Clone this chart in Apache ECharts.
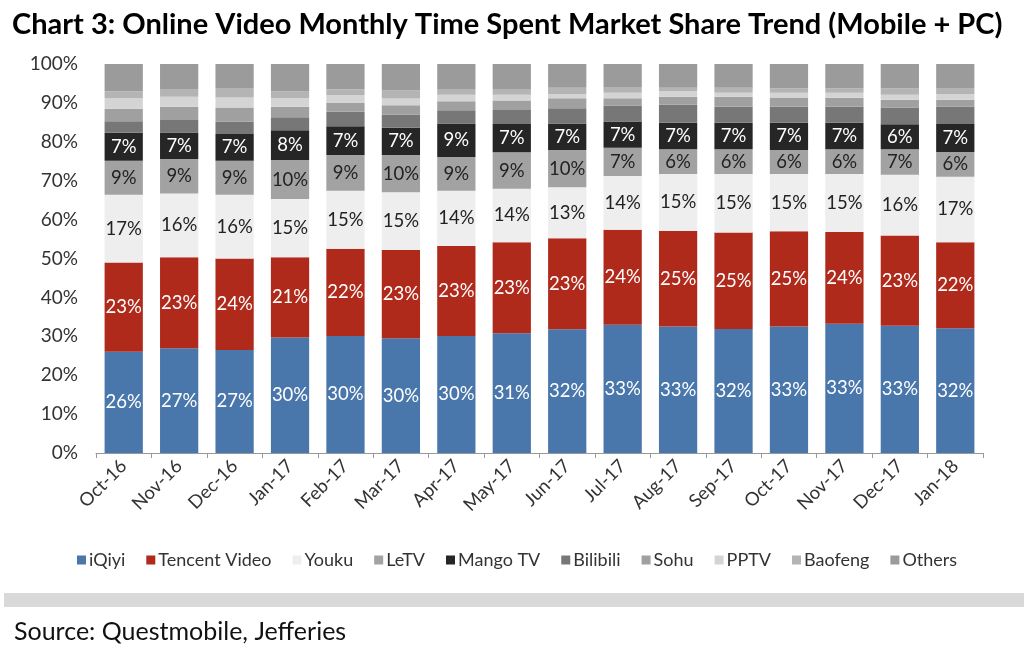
<!DOCTYPE html>
<html>
<head>
<meta charset="utf-8">
<script src="https://cdn.jsdelivr.net/npm/echarts@6/dist/echarts.min.js"></script>
<style>html,body{margin:0;padding:0;background:#fff;}#c{width:1024px;height:653px;}</style>
</head>
<body>
<div id="c"></div>
<script>
const months = ['Oct-16','Nov-16','Dec-16','Jan-17','Feb-17','Mar-17','Apr-17','May-17','Jun-17','Jul-17','Aug-17','Sep-17','Oct-17','Nov-17','Dec-17','Jan-18'];
const yTicks = [0,10,20,30,40,50,60,70,80,90,100];
const iqiyi    = [26.0,26.9,26.5,29.7,30.1,29.5,30.1,30.8,31.8,33.0,32.5,31.9,32.5,33.2,32.7,32.1];
const tencent  = [23.0,23.4,23.5,20.6,22.4,22.7,23.1,23.4,23.4,24.4,24.6,24.8,24.5,23.6,23.2,22.1];
const youku    = [17.4,16.4,16.4,15.0,14.9,14.8,14.2,13.7,13.1,13.8,14.6,15.0,14.7,14.9,15.6,16.8];
const letv     = [8.7,8.9,8.7,10.0,9.2,9.6,8.7,9.4,9.6,7.3,6.4,6.4,6.2,6.4,6.6,6.4];
const mango    = [7.2,6.8,6.9,7.7,7.4,7.0,8.6,7.3,6.8,6.7,6.8,6.8,7.0,6.8,6.4,7.2];
const bilibili = [3.0,3.2,3.2,3.3,3.7,3.4,3.4,3.6,3.9,4.1,4.6,4.1,4.1,4.1,4.3,4.5];
const sohu     = [3.2,3.4,3.6,2.7,2.3,2.4,2.3,2.4,2.6,1.9,2.1,2.6,2.4,2.3,2.0,1.7];
const pptv     = [2.7,2.6,2.6,2.2,2.0,1.7,1.7,1.5,1.0,1.4,1.4,1.0,1.2,1.3,1.3,1.5];
const baofeng  = [1.8,2.0,2.4,1.7,1.5,2.1,1.5,1.5,1.7,1.5,0.9,1.3,1.1,1.1,1.6,1.5];
const others   = [7.0,6.4,6.2,7.1,6.5,6.8,6.4,6.4,6.1,5.9,6.1,6.1,6.3,6.3,6.3,6.2];

const FONT = 'Lato';
const seriesDefs = [
  {name:'iQiyi', data:iqiyi, color:'#4a77ab', label:true, lc:'#ffffff'},
  {name:'Tencent Video', data:tencent, color:'#b02a1c', label:true, lc:'#ffffff'},
  {name:'Youku', data:youku, color:'#eeeeee', label:true, lc:'#222222'},
  {name:'LeTV', data:letv, color:'#a2a2a2', label:true, lc:'#222222'},
  {name:'Mango TV', data:mango, color:'#262626', label:true, lc:'#ffffff'},
  {name:'Bilibili', data:bilibili, color:'#777777', label:false},
  {name:'Sohu', data:sohu, color:'#a0a0a0', label:false},
  {name:'PPTV', data:pptv, color:'#d4d4d4', label:false},
  {name:'Baofeng', data:baofeng, color:'#b4b4b4', label:false},
  {name:'Others', data:others, color:'#9b9b9b', label:false}
];

const chart = echarts.init(document.getElementById('c'), null, {renderer:'canvas'});
chart.setOption({
  animation:false,
  backgroundColor:'#ffffff',
  textStyle:{fontFamily:FONT},
  title:[{
    text:'Chart 3: Online Video Monthly Time Spent Market Share Trend (Mobile + PC)',
    left:7, top:5,
    textStyle:{fontFamily:FONT, fontWeight:'bold', fontSize:29, color:'#000'}
  },{
    text:'Source: Questmobile, Jefferies',
    left:9, top:614,
    textStyle:{fontFamily:FONT, fontWeight:'normal', fontSize:25, color:'#111'}
  }],
  graphic:[{type:'rect', shape:{x:4, y:593, width:1020, height:14}, style:{fill:'#d9d9d9'}, silent:true}],
  grid:{left:96, right:41, top:64, bottom:200},
  legend:{
    data:seriesDefs.map(s=>s.name),
    left:72, top:546,
    itemWidth:9, itemHeight:9, itemGap:21,
    icon:'rect',
    textStyle:{fontFamily:FONT, fontSize:18, color:'#333', padding:[0,0,0,-2]}
  },
  xAxis:{
    type:'category', data:months,
    axisLine:{lineStyle:{color:'#999'}},
    axisTick:{show:true, length:5, lineStyle:{color:'#999'}},
    axisLabel:{rotate:45, fontFamily:FONT, fontSize:18.5, color:'#333', margin:10}
  },
  yAxis:{
    type:'value', min:0, max:100, interval:10,
    axisLine:{show:false}, axisTick:{show:false}, splitLine:{show:false},
    axisLabel:{fontFamily:FONT, fontSize:19, color:'#333', margin:18,
      formatter:v=> yTicks.indexOf(v)>=0 ? v+'%' : ''}
  },
  series:seriesDefs.map(s=>({
    name:s.name, type:'bar', stack:'total', data:s.data,
    barCategoryGap:'31%',
    itemStyle:{color:s.color},
    label:{show:s.label, position:'inside', fontFamily:FONT, fontSize:18.5, color:s.lc||'#fff',
      formatter:p=>Math.round(p.value)+'%'}
  }))
});
</script>
</body>
</html>
